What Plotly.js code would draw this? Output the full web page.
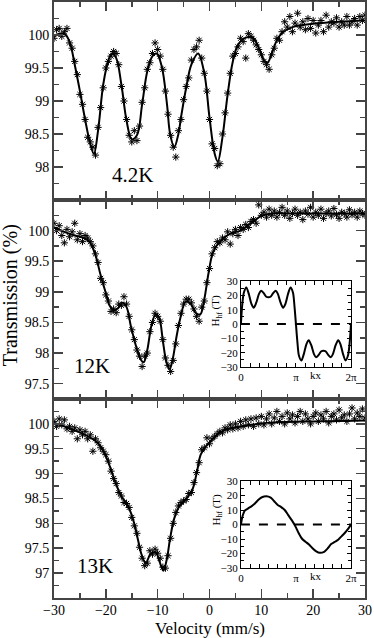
<!DOCTYPE html>
<html>
<head>
<meta charset="utf-8">
<script src="https://cdn.plot.ly/plotly-3.0.1.min.js"></script>
<style>
  html, body { margin: 0; padding: 0; background: #fff; }
  #chart { width: 374px; height: 638px; }
</style>
</head>
<body>
<div id="chart"></div>
<script>
// velocity channels (mm/s), shared by the three spectra
var velocity = [-30,-29.5,-29,-28.5,-28,-27.5,-27,-26.5,-26,-25.5,
  -25,-24.5,-24,-23.5,-23,-22.5,-22,-21.5,-21,-20.5,
  -20,-19.5,-19,-18.5,-18,-17.5,-17,-16.5,-16,-15.5,
  -15,-14.5,-14,-13.5,-13,-12.5,-12,-11.5,-11,-10.5,
  -10,-9.5,-9,-8.5,-8,-7.5,-7,-6.5,-6,-5.5,
  -5,-4.5,-4,-3.5,-3,-2.5,-2,-1.5,-1,-0.5,
  0,0.5,1,1.5,2,2.5,3,3.5,4,4.5,
  5,5.5,6,6.5,7,7.5,8,8.5,9,9.5,
  10,10.5,11,11.5,12,12.5,13,13.5,14,14.5,
  15,15.5,16,16.5,17,17.5,18,18.5,19,19.5,
  20,20.5,21,21.5,22,22.5,23,23.5,24,24.5,
  25,25.5,26,26.5,27,27.5,28,28.5,29,29.5,30];

// measured transmission (%)
var trans42 = [99.95,100.08,100.1,99.98,100.05,100.1,99.88,99.8,99.6,99.4,
  99.1,98.95,98.72,98.45,98.38,98.3,98.18,98.6,98.9,99.2,
  99.5,99.6,99.68,99.75,99.72,99.55,99.22,99.0,98.72,98.48,
  98.38,98.55,98.4,98.62,98.98,99.2,99.48,99.58,99.72,99.88,
  99.78,99.68,99.48,99.15,98.8,98.48,98.3,98.15,98.55,98.72,
  99.02,99.22,99.35,99.62,99.78,99.82,99.92,99.65,99.42,99.15,
  98.72,98.35,98.28,98.02,98.05,98.5,98.82,99.12,99.42,99.68,
  99.72,99.82,99.95,99.9,99.65,100.02,99.98,99.92,99.85,99.78,
  99.7,99.6,99.55,99.48,99.7,99.8,99.95,99.92,100.05,100.2,
  100.12,100.28,100.05,100.18,100.33,100.12,100.2,100.08,100.25,100.1,
  100.22,100.03,100.15,100.22,100.05,100.3,100.12,100.2,100.18,100.26,
  100.12,100.2,100.15,100.28,100.15,100.2,100.25,100.15,100.28,100.22,100.3];

var trans12 = [100.12,100.0,100.08,99.92,99.8,100.02,99.9,99.98,100.12,99.85,
  99.95,99.82,99.92,99.88,99.82,99.75,99.62,99.48,99.22,99.15,
  98.95,98.85,98.68,98.72,98.66,98.8,98.78,98.92,98.8,98.6,
  98.38,98.22,98.05,97.95,97.78,97.95,98.0,98.35,98.5,98.65,
  98.6,98.52,98.22,97.92,97.8,97.7,97.88,98.15,98.45,98.65,
  98.8,98.88,98.88,98.82,98.72,98.6,98.52,98.75,98.85,99.15,
  99.38,99.62,99.72,99.82,99.8,99.88,99.85,99.98,99.78,99.95,
  100.02,99.92,100.05,100.02,100.1,100.05,100.15,100.18,100.12,100.42,
  100.25,100.3,100.22,100.35,100.25,100.32,100.22,100.3,100.38,100.25,
  100.32,100.2,100.28,100.35,100.25,100.3,100.18,100.32,100.27,100.38,
  100.22,100.3,100.25,100.35,100.2,100.28,100.32,100.24,100.36,100.26,
  100.2,100.3,100.28,100.22,100.34,100.26,100.3,100.22,100.32,100.28,100.25];

var trans13 = [100.05,99.95,100.1,99.98,100.08,99.9,99.95,99.85,99.92,99.7,
  99.88,99.78,99.85,99.7,99.78,99.45,99.7,99.62,99.52,99.45,
  99.38,99.25,99.05,98.9,98.8,98.62,98.55,98.42,98.4,98.32,
  98.12,97.95,97.8,97.52,97.3,97.15,97.2,97.45,97.38,97.48,
  97.4,97.3,97.12,97.1,97.35,97.7,98.0,98.22,98.35,98.42,
  98.45,98.48,98.6,98.62,98.82,99.02,99.22,99.48,99.52,99.72,
  99.6,99.7,99.75,99.8,99.85,99.82,99.92,99.88,99.98,99.9,
  100.0,99.92,100.05,99.95,100.08,99.98,100.1,99.95,100.12,100.0,
  100.15,99.98,100.1,100.2,100.0,100.12,100.25,100.05,100.15,100.0,
  100.22,100.1,100.18,100.02,100.15,100.25,100.05,100.2,100.1,100.0,
  100.15,100.22,100.05,100.18,100.1,100.25,100.02,100.15,100.2,100.08,
  100.28,100.12,100.18,100.05,100.2,100.32,100.1,100.22,100.15,100.3,100.12];

// fitted curves
var fitVel42 = [-30,-29,-28,-27,-26,-25,-24,-23,-22.3,-21.5,-20.5,-19.5,-18.8,-18,-17,-16,-15,-14,-13,-12,
  -11,-10.2,-9.2,-8.2,-7.6,-6.8,-6,-5.5,-4.5,-3.5,-2.2,-1,0,1,1.6,2.5,3.5,4.5,5.5,7,
  8.5,9.7,10.5,11.2,12,13,14,16,20,25,30];
var fit42 = [99.98,100.02,100.02,99.9,99.55,99.15,98.72,98.35,98.2,98.55,99.25,99.62,99.72,99.65,99.25,98.7,98.42,98.48,98.95,99.45,
  99.68,99.72,99.52,98.95,98.5,98.3,98.5,98.75,99.2,99.55,99.72,99.42,98.75,98.2,98.08,98.45,99.1,99.6,99.85,99.96,
  99.95,99.77,99.62,99.58,99.72,99.92,100.03,100.12,100.17,100.2,100.22];

var fitVel12 = [-30,-28,-26,-24,-23,-22,-21,-20,-19.3,-18.5,-17.7,-16.8,-16,-15.2,-14.2,-13.3,-12.7,-12,-11.2,-10.4,
  -9.7,-9,-8.3,-7.7,-7.1,-6.4,-5.6,-4.6,-3.6,-2.7,-1.8,-1,-0.2,0.7,2,4,6,8,10,12,15,20,25,30];
var fit12 = [100.05,99.98,99.92,99.87,99.8,99.6,99.27,98.98,98.78,98.7,98.73,98.82,98.75,98.45,98.12,97.9,97.85,98.05,98.45,98.63,
  98.57,98.2,97.85,97.74,97.9,98.25,98.58,98.84,98.8,98.66,98.63,98.88,99.3,99.65,99.82,99.95,100.0,100.12,100.24,100.28,
  100.28,100.28,100.28,100.28];

var fitVel13 = [-30,-28,-26,-24,-22.3,-21,-20,-19,-18,-17,-16,-15.2,-14.4,-13.8,-13.1,-12.3,-11.4,-10.4,-9.6,-8.9,
  -8.2,-7.6,-6.8,-5.9,-4.6,-3.3,-2.4,-1.7,-0.7,0.5,1.7,3,5,8,11,15,20,25,30];
var fit13 = [100.02,99.95,99.87,99.78,99.68,99.55,99.35,99.08,98.78,98.54,98.4,98.22,97.95,97.67,97.37,97.2,97.38,97.42,97.22,97.05,
  97.3,97.7,98.1,98.33,98.48,98.68,99.05,99.38,99.55,99.68,99.8,99.88,99.93,99.98,100.02,100.04,100.05,100.06,100.07];

// insets: hyperfine field profile H_hf(kx) in T
var kx12 = [0,0.08,0.17,0.31,0.45,0.6,0.73,0.88,1.03,1.15,1.3,1.45,1.57,1.69,1.84,1.99,2.11,2.26,2.41,2.54,2.69,2.83,2.97,3.06,3.14,
  3.22,3.31,3.45,3.59,3.74,3.87,4.02,4.17,4.29,4.44,4.59,4.71,4.83,4.98,5.13,5.25,5.4,5.55,5.68,5.83,5.97,6.11,6.2,6.283];
var hf12 = [0,14,22,25.5,21,14,11.3,15,21,23.2,21.5,19,18.6,19,21.5,23.2,21,15,11.3,14,21,25.5,22,12,0,
  -12,-22,-25.5,-21,-14,-11.3,-15,-21,-23.2,-21.5,-19,-18.6,-19,-21.5,-23.2,-21,-15,-11.3,-14,-21,-25.5,-22,-14,0];

var kx13 = [0,0.1,0.22,0.4,0.6,0.8,1.0,1.2,1.45,1.7,1.9,2.1,2.3,2.5,2.7,2.9,3.1,3.3,3.5,3.7,3.9,4.1,4.3,4.5,4.75,4.95,5.15,5.35,5.55,5.75,5.95,6.15,6.283];
var hf13 = [0,6,9.5,11,12.5,14.5,17,18.8,19.5,18.5,16,13.5,12,10,6.5,3,-1,-6,-10,-12,-14,-16.5,-18.5,-19.5,-18.8,-16.5,-13.5,-12,-10.5,-8,-5.5,-2.5,0];

var FONT = "Liberation Serif, Times New Roman, serif";
var AXC = "#444";

function spectrum(x, y, xa, ya) {
  return {x: x, y: y, xaxis: xa, yaxis: ya, type: "scatter", mode: "markers",
    marker: {symbol: "asterisk-open", size: 6, color: "#000", line: {color: "#000", width: 1}},
    hoverinfo: "skip", cliponaxis: true};
}
function fitLine(x, y, xa, ya) {
  return {x: x, y: y, xaxis: xa, yaxis: ya, type: "scatter", mode: "lines",
    line: {color: "#000", width: 2, shape: "spline", smoothing: 1}, hoverinfo: "skip"};
}

var data = [
  spectrum(velocity, trans42, "x", "y"), fitLine(fitVel42, fit42, "x", "y"),
  spectrum(velocity, trans12, "x2", "y2"), fitLine(fitVel12, fit12, "x2", "y2"),
  spectrum(velocity, trans13, "x3", "y3"), fitLine(fitVel13, fit13, "x3", "y3"),
  {x: kx12, y: hf12, xaxis: "x4", yaxis: "y4", mode: "lines", line: {color: "#000", width: 2, shape: "spline", smoothing: 0.8}},
  {x: kx13, y: hf13, xaxis: "x5", yaxis: "y5", mode: "lines", line: {color: "#000", width: 2, shape: "spline", smoothing: 0.8}}
];

function velAxis(anchor, labels) {
  var ax = {domain: [0, 1], range: [-30, 30], anchor: anchor, showline: true, linecolor: AXC, linewidth: 2,
    mirror: "allticks", ticks: "inside", ticklen: 9, tickwidth: 1.5, tickcolor: AXC,
    tickvals: [-30, -20, -10, 0, 10, 20, 30], showticklabels: labels,
    minor: {tickmode: "linear", tick0: 0, dtick: 5, ticks: "inside", ticklen: 5, tickwidth: 1.5, tickcolor: AXC},
    showgrid: false, zeroline: false, tickfont: {family: FONT, size: 14, color: "#000"}};
  if (anchor !== "y") ax.matches = "x";
  if (labels) ax.ticklabelstandoff = -2;
  return ax;
}
function transAxis(anchor, dom, rng, vals) {
  return {domain: dom, range: rng, anchor: anchor, showline: true, linecolor: AXC, linewidth: 2,
    mirror: "allticks", ticks: "inside", ticklen: 9, tickwidth: 1.5, tickcolor: AXC,
    tickvals: vals, showgrid: false, zeroline: false,
    minor: {tickmode: "linear", tick0: 0, dtick: 0.25, ticks: "inside", ticklen: 5, tickwidth: 1.5, tickcolor: AXC},
    tickfont: {family: FONT, size: 14, color: "#000"}};
}
function kxAxis(anchor) {
  return {domain: [0.601, 0.955], range: [0, 2 * Math.PI], anchor: anchor, showline: true, linecolor: "#000", linewidth: 1,
    mirror: "allticks", ticks: "inside", ticklen: 4, tickcolor: "#000",
    tickvals: [0, Math.PI, 2 * Math.PI], ticktext: ["0", "\u03c0", "2\u03c0"],
    minor: {tickmode: "linear", tick0: 0, dtick: Math.PI / 6, ticks: "inside", ticklen: 4, tickcolor: "#000"},
    showgrid: false, zeroline: false, tickfont: {family: FONT, size: 11, color: "#000"}};
}
function hfAxis(anchor, dom) {
  return {domain: dom, range: [-30, 30], anchor: anchor, showline: true, linecolor: "#000", linewidth: 1,
    mirror: "allticks", ticks: "inside", ticklen: 4, tickcolor: "#000",
    tickvals: [-30, -20, -10, 0, 10, 20, 30],
    minor: {tickmode: "linear", tick0: 0, dtick: 5, ticks: "inside", ticklen: 3, tickcolor: "#000"},
    showgrid: false, zeroline: false, tickfont: {family: FONT, size: 11, color: "#000"}};
}

function label(text, x, y, size, extra) {
  var a = {text: text, xref: "paper", yref: "paper", x: x, y: y, xanchor: "center", yanchor: "middle",
    showarrow: false, font: {family: FONT, size: size, color: "#000"}};
  for (var k in extra) a[k] = extra[k];
  return a;
}

var layout = {
  width: 374, height: 638,
  margin: {l: 54, r: 9, t: 2, b: 40},
  paper_bgcolor: "#fff", plot_bgcolor: "rgba(0,0,0,0)",
  showlegend: false,
  font: {family: FONT, color: "#000"},
  xaxis: velAxis("y", false),
  xaxis2: velAxis("y2", false),
  xaxis3: velAxis("y3", true),
  yaxis: transAxis("x", [0.6678, 1], [97.5, 100.5], [98, 98.5, 99, 99.5, 100]),
  yaxis2: transAxis("x2", [0.3339, 0.6678], [97.25, 100.5], [97.5, 98, 98.5, 99, 99.5, 100]),
  yaxis3: transAxis("x3", [0, 0.3339], [96.5, 100.5], [97, 97.5, 98, 98.5, 99, 99.5, 100]),
  xaxis4: kxAxis("y4"),
  yaxis4: hfAxis("x4", [0.3876, 0.5319]),
  xaxis5: kxAxis("y5"),
  yaxis5: hfAxis("x5", [0.0503, 0.1963]),
  shapes: [
    {type: "line", xref: "x4 domain", yref: "y4", x0: 0, x1: 1, y0: 0, y1: 0, line: {color: "#000", width: 2, dash: "dash"}},
    {type: "line", xref: "x5 domain", yref: "y5", x0: 0, x1: 1, y0: 0, y1: 0, line: {color: "#000", width: 2, dash: "dash"}}
  ],
  annotations: [
    label("4.2K", 0.251, 0.7097, 21),
    label("12K", 0.122, 0.389, 21),
    label("13K", 0.132, 0.0537, 21),
    label("Transmission (%)", -0.1415, 0.508, 20, {textangle: -90}),
    label("Velocity (mm/s)", 0.5016, -0.051, 17),
    label("kx", 4.3, 0.374, 11, {xref: "x4"}),
    label("kx", 4.3, 0.0369, 11, {xref: "x5"}),
    label("H<sub>hf</sub> (T)", 0.5225, 0.4815, 11, {textangle: -90}),
    label("H<sub>hf</sub> (T)", 0.5225, 0.1477, 11, {textangle: -90})
  ]
};

Plotly.newPlot("chart", data, layout, {staticPlot: true, displayModeBar: false});
</script>
</body>
</html>
